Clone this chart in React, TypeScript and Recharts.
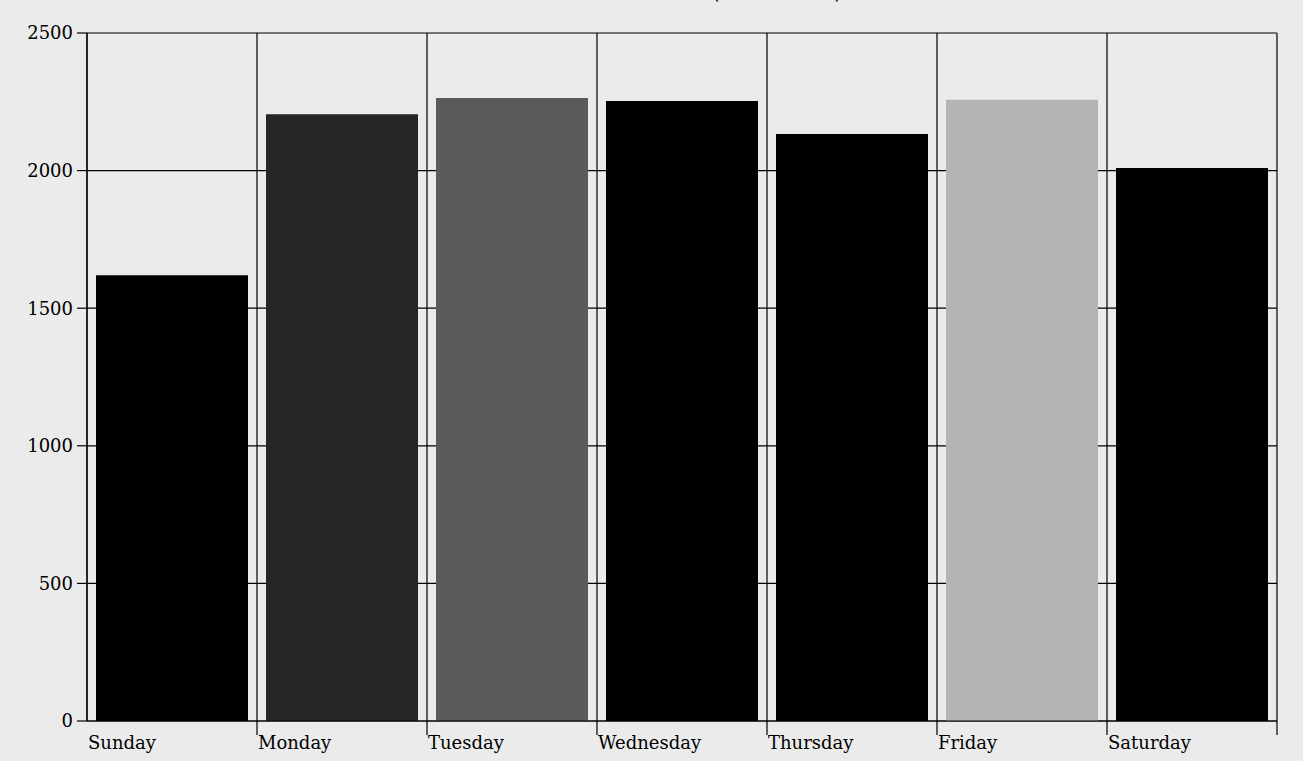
import React from "react";
import { BarChart, Bar, XAxis, YAxis, CartesianGrid, Cell } from "recharts";

const days = ["Sunday", "Monday", "Tuesday", "Wednesday", "Thursday", "Friday", "Saturday"];
const values = [1620, 2205, 2264, 2253, 2133, 2257, 2009];
const barColors = ["#000000", "#262626", "#5a5a5a", "#000000", "#000000", "#b4b4b4", "#000000"];
const yTicks = [0, 500, 1000, 1500, 2000, 2500];
const boundaryTicks = [0, 1, 2, 3, 4, 5, 6, 7];

const data = days.map((d, i) => ({ day: d, value: values[i] }));

const FONT = "'DejaVu Serif', serif";

const XTick = (props: any) => {
  const { x, y, payload } = props;
  const label = days[payload.value];
  return (
    <g>
      {payload.value > 0 && <line x1={x} y1={y} x2={x} y2={y + 14} stroke="#000" strokeWidth={1.2} />}
      {label && (
        <text x={x + 1} y={y + 28} textAnchor="start" fontFamily={FONT} fontSize={18} fill="#000">
          {label}
        </text>
      )}
    </g>
  );
};

export default function App() {
  return (
    <div style={{ position: "absolute", left: 0, top: 0, width: 1303, height: 761, background: "#ebebeb", overflow: "hidden" }}>
      <svg style={{ position: "absolute", left: 0, top: 0 }} width={1303} height={20}>
        <text x={712} y={-1} fontFamily="'DejaVu Sans', sans-serif" fontSize={20} fill="#000">(</text>
        <text x={834} y={-1} fontFamily="'DejaVu Sans', sans-serif" fontSize={20} fill="#000">)</text>
      </svg>
      <BarChart
        width={1303}
        height={761}
        data={data}
        margin={{ top: 33, right: 26, left: 0, bottom: 0 }}
        barCategoryGap={9}
      >
        <CartesianGrid stroke="#000" strokeWidth={1.2} xAxisId={0} yAxisId={0} />
        <XAxis
          xAxisId={0}
          type="number"
          dataKey="x"
          domain={[0, 7]}
          ticks={boundaryTicks}
          interval={0}
          height={40}
          tickSize={0}
          tickMargin={0}
          tickLine={false}
          axisLine={{ stroke: "#000", strokeWidth: 1.2 }}
          tick={<XTick />}
          allowDataOverflow
        />
        <XAxis xAxisId="cat" dataKey="day" type="category" hide />
        <YAxis
          yAxisId={0}
          width={87}
          domain={[0, 2500]}
          ticks={yTicks}
          interval={0}
          tickSize={10}
          tickMargin={4}
          tickLine={{ stroke: "#000", strokeWidth: 1.2 }}
          axisLine={{ stroke: "#000", strokeWidth: 1.2 }}
          tick={{ fontFamily: FONT, fontSize: 18, fill: "#000" }}
        />
        <Bar dataKey="value" xAxisId="cat" yAxisId={0} isAnimationActive={false}>
          {data.map((d, i) => (
            <Cell key={d.day} fill={barColors[i]} />
          ))}
        </Bar>
      </BarChart>
    </div>
  );
}
